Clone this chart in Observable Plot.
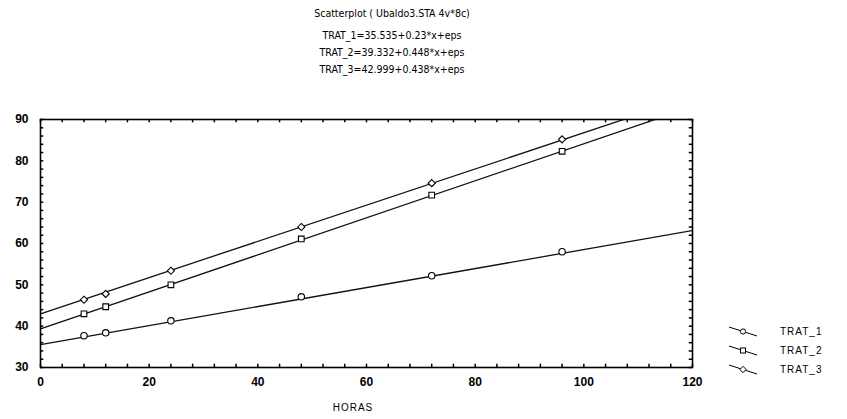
<!DOCTYPE html>
<html>
<head>
<meta charset="utf-8">
<script src="https://cdn.jsdelivr.net/npm/d3@7"></script>
<script src="https://cdn.jsdelivr.net/npm/@observablehq/plot@0.6"></script>
<style>
  html, body { margin: 0; padding: 0; background: #fff; }
  #wrap { position: relative; width: 847px; height: 419px; overflow: hidden; font-family: "Liberation Sans", Arial, sans-serif; color: #000; }
  .t { position: absolute; left: 292px; width: 200px; text-align: center; font-family: "Liberation Sans Narrow", "DejaVu Sans Condensed", "Liberation Sans", sans-serif; font-size: 10.5px; line-height: 12px; white-space: nowrap; }
  .xl { position: absolute; left: 313px; width: 80px; text-align: center; top: 402px; font-size: 10px; letter-spacing: 1px; line-height: 12px; }
  .lg { position: absolute; left: 728px; height: 16px; display: flex; align-items: center; font-size: 10px; letter-spacing: 1px; }
  .lg svg { margin-right: 22px; }
</style>
</head>
<body>
<div id="wrap"></div>
<script>
// ---- data ----
const series = ["TRAT_1", "TRAT_2", "TRAT_3"];
const symbols = ["circle", "square", "diamond2"];
const horas = [8, 12, 24, 48, 72, 96];
const trat1 = [37.7, 38.4, 41.3, 47.1, 52.2, 58.0];
const trat2 = [43.0, 44.7, 50.0, 61.1, 71.7, 82.3];
const trat3 = [46.4, 47.8, 53.4, 64.0, 74.6, 85.2];
const intercepts = [35.535, 39.332, 42.999];
const slopes = [0.23, 0.448, 0.438];
const xTicks = [0, 20, 40, 60, 80, 100, 120];
const yTicks = [30, 40, 50, 60, 70, 80, 90];
const xMinor = d3.range(0, 121, 4);
const yMinor = d3.range(30, 91, 2);
const titleLines = [
  "Scatterplot ( Ubaldo3.STA 4v*8c)",
  "TRAT_1=35.535+0.23*x+eps",
  "TRAT_2=39.332+0.448*x+eps",
  "TRAT_3=42.999+0.438*x+eps"
];
const xLabel = "HORAS";
const xDomain = [0, 120];
const yDomain = [30, 90];

// ---- tables ----
const values = [trat1, trat2, trat3];
const points = [];
series.forEach((s, i) => horas.forEach((h, j) => points.push({s, x: h, y: values[i][j]})));
const fits = [];
series.forEach((s, i) => xDomain.forEach(x => fits.push({s, x, y: intercepts[i] + slopes[i] * x})));

const plot = Plot.plot({
  width: 847,
  height: 419,
  marginLeft: 40,
  marginRight: 155,
  marginTop: 119,
  marginBottom: 52,
  x: {domain: xDomain},
  y: {domain: yDomain},
  symbol: {domain: series, range: symbols},
  style: {fontFamily: "'Liberation Sans', Arial, sans-serif", color: "#000", background: "transparent"},
  marks: [
    Plot.line(fits, {x: "x", y: "y", z: "s", stroke: "#111", strokeWidth: 1.3, clip: true}),
    Plot.dot(points, {x: "x", y: "y", symbol: "s", r: 3.2, fill: "#fff", stroke: "#000", strokeWidth: 1.1}),
    Plot.ruleX(xMinor, {x: d => d, y1: yDomain[0], y2: yDomain[0] + 0.8, stroke: "#000", strokeWidth: 1.5}),
    Plot.ruleX(xMinor, {x: d => d, y1: yDomain[1], y2: yDomain[1] - 0.8, stroke: "#000", strokeWidth: 1.5}),
    Plot.ruleY(yMinor, {y: d => d, x1: xDomain[0], x2: xDomain[0] + 0.6, stroke: "#000", strokeWidth: 1.5}),
    Plot.ruleY(yMinor, {y: d => d, x1: xDomain[1], x2: xDomain[1] - 0.6, stroke: "#000", strokeWidth: 1.5}),
    Plot.frame({stroke: "#000", strokeWidth: 1.6}),
    Plot.axisX({ticks: xTicks, tickSize: 0, tickPadding: 10, fontSize: 12, fontWeight: "bold", label: null}),
    Plot.axisY({ticks: yTicks, tickSize: 0, tickPadding: 12, fontSize: 12, fontWeight: "bold", label: null})
  ]
});

const wrap = document.getElementById("wrap");
wrap.appendChild(plot);

const titleTops = [7, 29, 46, 63];
titleLines.forEach((t, i) => {
  const d = document.createElement("div");
  d.className = "t";
  d.style.top = titleTops[i] + "px";
  d.textContent = t;
  wrap.appendChild(d);
});

const xl = document.createElement("div");
xl.className = "xl";
xl.textContent = xLabel;
wrap.appendChild(xl);

const legendTops = [323, 342, 361];
const shapes = {
  circle: '<circle cx="15" cy="7.5" r="2.6" fill="#fff" stroke="#000" stroke-width="1"/>',
  square: '<rect x="12.5" y="5" width="5" height="5" fill="#fff" stroke="#000" stroke-width="1"/>',
  diamond2: '<path d="M15,4.3L18.2,7.5L15,10.7L11.8,7.5Z" fill="#fff" stroke="#000" stroke-width="1"/>'
};
series.forEach((s, i) => {
  const d = document.createElement("div");
  d.className = "lg";
  d.style.top = legendTops[i] + "px";
  d.innerHTML = '<svg width="30" height="15"><line x1="1" y1="3" x2="29" y2="12" stroke="#000" stroke-width="1"/>' + shapes[symbols[i]] + '</svg><span>' + s + '</span>';
  wrap.appendChild(d);
});
</script>
</body>
</html>
